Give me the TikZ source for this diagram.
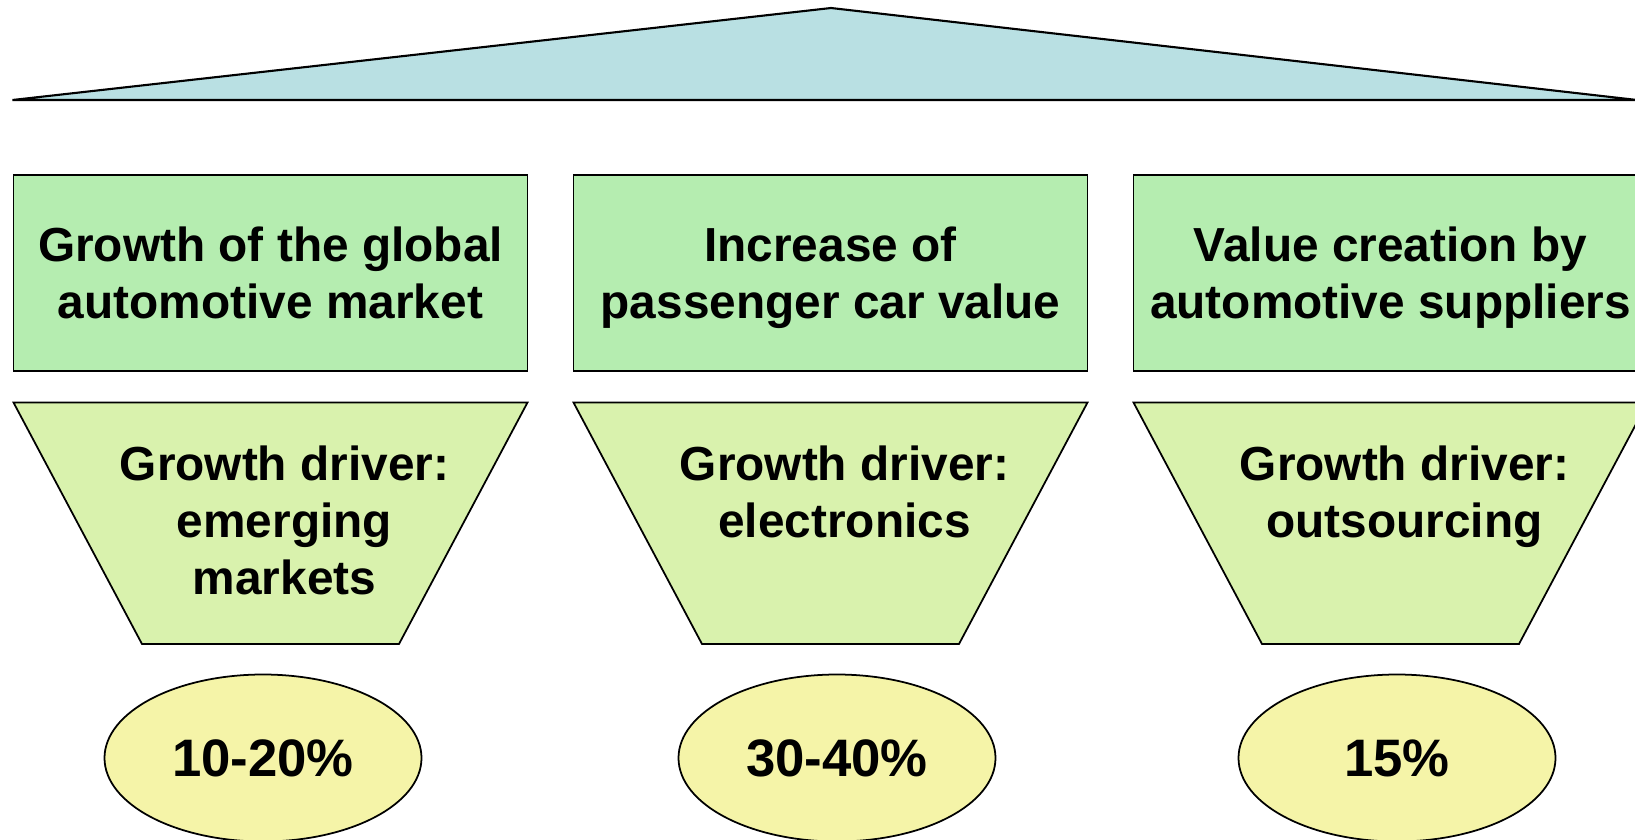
\documentclass[tikz,border=0pt]{standalone}
\usepackage{fontspec}
\setmainfont{Liberation Sans}
\usetikzlibrary{shapes.geometric}

\definecolor{roofblue}{HTML}{B9E0E3}
\definecolor{topicgreen}{HTML}{B5EDB0}
\definecolor{drivergreen}{HTML}{D9F2AD}
\definecolor{rateyellow}{HTML}{F5F4A8}

\begin{document}
\begin{tikzpicture}[x=0.1mm,y=-0.1mm,
		every node/.style={align=center,inner sep=0pt,font=\bfseries\fontsize{13.6}{16.3}\selectfont},
		topic/.style={draw,rectangle,fill=topicgreen,line width=.5pt,minimum width=51.4mm,minimum height=19.6mm,text depth=0pt},
		funnel/.style={draw,fill=drivergreen,line width=.5pt},
		rate/.style={draw,ellipse,fill=rateyellow,line width=.5pt,minimum width=31.7mm,minimum height=16.7mm,font=\bfseries\fontsize{15}{18}\selectfont}]
		\useasboundingbox (0,0) rectangle (1635,839);

		% roof
		\draw [fill=roofblue, line width=.6pt] (12.5,100) -- (831,8) -- (1637,100) -- cycle;

		\node[topic] (t1) at (270.5,273)  {Growth of the global\\automotive market};
		\node[topic] (t2) at (830.5,273)  {Increase of\\passenger car value};
		\node[topic] (t3) at (1390.5,273) {Value creation by\\automotive suppliers};

		\foreach \cx in {270.5,830.5,1390.5}
			\draw [funnel] (\cx-257,402.5) -- (\cx+257,402.5) -- (\cx+128.5,644) -- (\cx-128.5,644) -- cycle;

		\node[anchor=north] (g1) at (284.5,445)  {Growth driver:\\emerging\\markets};
		\node[anchor=north] (g2) at (844.5,445)  {Growth driver:\\electronics};
		\node[anchor=north] (g3) at (1404.5,445) {Growth driver:\\outsourcing};

		\node[rate] (r1) at (263,758)  {10-20\%};
		\node[rate] (r2) at (837,758)  {30-40\%};
		\node[rate] (r3) at (1397,758) {15\%};
	\end{tikzpicture}
\end{document}
